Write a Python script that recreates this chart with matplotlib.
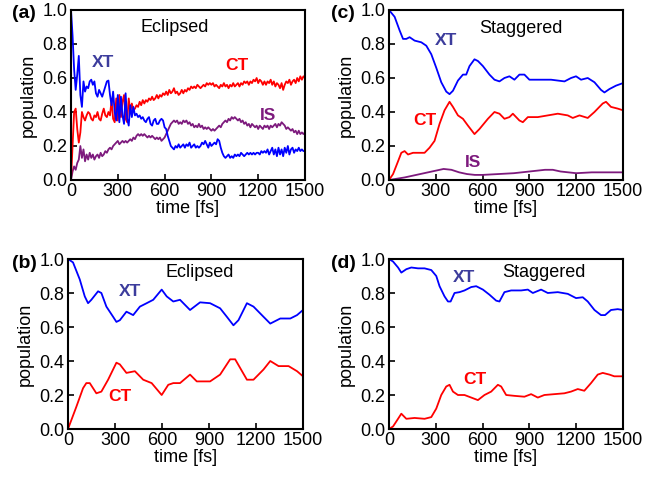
import numpy as np
import matplotlib
matplotlib.use("Agg")
import matplotlib.pyplot as plt

plt.rcParams['font.family'] = ['Liberation Sans', 'DejaVu Sans']

# ---- panel (a): eclipsed, 3 states, sampled every 10 fs ----
xt_a = [1.00, 0.85, 0.65, 0.53, 0.62, 0.73, 0.50, 0.43, 0.58, 0.52,
        0.55, 0.54, 0.58, 0.59, 0.56, 0.58, 0.51, 0.49, 0.53, 0.51,
        0.49, 0.52, 0.55, 0.58, 0.585, 0.50, 0.44, 0.52, 0.40, 0.35,
        0.50, 0.34, 0.49, 0.38, 0.33, 0.51, 0.36, 0.32, 0.44, 0.37,
        0.43, 0.38, 0.39, 0.37, 0.38, 0.36, 0.37, 0.35, 0.34, 0.36,
        0.37, 0.33, 0.32, 0.35, 0.36, 0.33, 0.33, 0.35, 0.36, 0.35,
        0.31, 0.30, 0.26, 0.23, 0.20, 0.19, 0.18, 0.20, 0.19, 0.21,
        0.19, 0.20, 0.21, 0.19, 0.21, 0.20, 0.22, 0.19, 0.20, 0.21,
        0.19, 0.20, 0.19, 0.20, 0.22, 0.21, 0.23, 0.21, 0.19, 0.22,
        0.20, 0.21, 0.22, 0.21, 0.24, 0.23, 0.19, 0.16, 0.14, 0.13,
        0.14, 0.15, 0.13, 0.14, 0.13, 0.15, 0.14, 0.15, 0.14, 0.16,
        0.15, 0.14, 0.15, 0.16, 0.15, 0.16, 0.15, 0.16, 0.15, 0.16,
        0.16, 0.15, 0.17, 0.16, 0.17, 0.16, 0.18, 0.15, 0.17, 0.19,
        0.15, 0.18, 0.14, 0.19, 0.15, 0.18, 0.14, 0.19, 0.16, 0.20,
        0.15, 0.18, 0.19, 0.16, 0.18, 0.17, 0.19, 0.17, 0.18, 0.17,
        0.17]
ct_a = [0.00, 0.20, 0.40, 0.42, 0.30, 0.22, 0.28, 0.40, 0.37, 0.35,
        0.38, 0.40, 0.39, 0.36, 0.35, 0.38, 0.37, 0.40, 0.36, 0.35,
        0.39, 0.42, 0.38, 0.37, 0.40, 0.38, 0.47, 0.36, 0.34, 0.48,
        0.35, 0.50, 0.37, 0.46, 0.50, 0.36, 0.34, 0.48, 0.40, 0.45,
        0.41, 0.42, 0.44, 0.43, 0.46, 0.44, 0.47, 0.45, 0.47, 0.46,
        0.48, 0.47, 0.49, 0.47, 0.48, 0.50, 0.48, 0.50, 0.49, 0.51,
        0.50, 0.52, 0.50, 0.53, 0.51, 0.52, 0.54, 0.51, 0.52, 0.50,
        0.51, 0.53, 0.51, 0.53, 0.52, 0.54, 0.53, 0.55, 0.54, 0.55,
        0.54, 0.56, 0.55, 0.54, 0.55, 0.56, 0.55, 0.57, 0.56, 0.57,
        0.56, 0.57, 0.55, 0.56, 0.55, 0.54, 0.56, 0.55, 0.57, 0.55,
        0.56, 0.54, 0.56, 0.55, 0.57, 0.55, 0.56, 0.57, 0.55, 0.57,
        0.56, 0.58, 0.57, 0.58, 0.56, 0.58, 0.57, 0.59, 0.58, 0.60,
        0.57, 0.59, 0.58, 0.56, 0.58, 0.56, 0.58, 0.57, 0.59, 0.56,
        0.58, 0.55, 0.57, 0.56, 0.54, 0.57, 0.53, 0.56, 0.58, 0.57,
        0.59, 0.56, 0.58, 0.59, 0.57, 0.60, 0.58, 0.61, 0.59, 0.61,
        0.60]
is_a = [0.00, 0.05, 0.08, 0.06, 0.10, 0.12, 0.20, 0.13, 0.18, 0.11,
        0.15, 0.12, 0.16, 0.13, 0.15, 0.12, 0.14, 0.15, 0.13, 0.16,
        0.14, 0.15, 0.17, 0.16, 0.18, 0.19, 0.18, 0.20, 0.21, 0.22,
        0.23, 0.21, 0.22, 0.23, 0.22, 0.23, 0.22, 0.23, 0.24, 0.23,
        0.25, 0.24, 0.26, 0.27, 0.26, 0.27, 0.26, 0.27, 0.26, 0.25,
        0.26, 0.25, 0.26, 0.25, 0.24, 0.25, 0.24, 0.25, 0.23, 0.24,
        0.25, 0.27, 0.29, 0.31, 0.33, 0.34, 0.35, 0.34, 0.35, 0.33,
        0.34, 0.33, 0.35, 0.34, 0.35, 0.33, 0.34, 0.32, 0.33, 0.31,
        0.32, 0.31, 0.33, 0.31, 0.32, 0.30, 0.31, 0.30, 0.31, 0.30,
        0.29, 0.30, 0.29, 0.30, 0.31, 0.32, 0.31, 0.33, 0.34, 0.35,
        0.34, 0.36, 0.35, 0.37, 0.36, 0.37, 0.36, 0.35, 0.36, 0.34,
        0.35, 0.33, 0.34, 0.32, 0.33, 0.31, 0.33, 0.32, 0.31, 0.32,
        0.30, 0.32, 0.31, 0.30, 0.32, 0.31, 0.32, 0.30, 0.32, 0.31,
        0.32, 0.33, 0.31, 0.33, 0.32, 0.34, 0.33, 0.32, 0.30, 0.31,
        0.30, 0.29, 0.30, 0.28, 0.29, 0.27, 0.29, 0.27, 0.28, 0.27,
        0.28]
t_a = np.linspace(0, 1500, len(xt_a))

# ---- panel (b): eclipsed, 2 states ----
t_b_xt = [0, 32, 75, 107, 128, 149, 192, 213, 245, 288, 309, 331, 373, 395, 416,
          459, 502, 544, 598, 630, 672, 715, 779, 843, 907, 971, 1014, 1056,
          1088, 1142, 1184, 1248, 1291, 1355, 1419, 1462, 1500]
xt_b = [1.00, 0.98, 0.88, 0.78, 0.74, 0.76, 0.81, 0.80, 0.72, 0.66, 0.63, 0.64,
        0.69, 0.68, 0.67, 0.72, 0.74, 0.76, 0.82, 0.78, 0.75, 0.76, 0.70, 0.745,
        0.74, 0.71, 0.66, 0.61, 0.64, 0.74, 0.72, 0.66, 0.62, 0.65, 0.65, 0.67,
        0.70]
t_b_ct = [0, 53, 96, 117, 139, 181, 213, 256, 309, 331, 373, 427, 480, 534, 598,
          640, 672, 715, 779, 822, 907, 971, 1035, 1067, 1142, 1184, 1248, 1291,
          1344, 1408, 1462, 1500]
ct_b = [0.00, 0.13, 0.24, 0.27, 0.27, 0.21, 0.22, 0.29, 0.39, 0.38, 0.33, 0.34,
        0.29, 0.27, 0.20, 0.26, 0.27, 0.27, 0.32, 0.28, 0.28, 0.32, 0.41, 0.41,
        0.29, 0.29, 0.35, 0.40, 0.37, 0.37, 0.34, 0.31]

# ---- panel (c): staggered, 3 states ----
t_c_xt = [0, 36, 68, 90, 111, 132, 164, 207, 239, 271, 303, 335, 367, 388, 410,
          442, 474, 495, 516, 548, 570, 602, 644, 676, 708, 740, 772, 804, 836,
          868, 900, 954, 1039, 1125, 1167, 1199, 1231, 1274, 1317, 1359, 1381,
          1413, 1455, 1500]
xt_c = [1.00, 0.96, 0.88, 0.83, 0.83, 0.84, 0.82, 0.81, 0.79, 0.74, 0.66, 0.575,
        0.52, 0.505, 0.525, 0.585, 0.62, 0.62, 0.67, 0.71, 0.70, 0.67, 0.62, 0.59,
        0.58, 0.60, 0.61, 0.59, 0.62, 0.62, 0.59, 0.59, 0.59, 0.58, 0.60, 0.61,
        0.59, 0.60, 0.575, 0.53, 0.515, 0.535, 0.555, 0.57]
t_c_ct = [0, 26, 58, 79, 100, 122, 154, 196, 228, 260, 292, 324, 356, 388, 410,
          442, 474, 506, 548, 580, 634, 676, 708, 740, 772, 794, 836, 858, 890,
          954, 1018, 1082, 1146, 1178, 1221, 1274, 1317, 1370, 1391, 1423, 1466,
          1500]
ct_c = [0.00, 0.035, 0.11, 0.16, 0.17, 0.15, 0.16, 0.16, 0.16, 0.19, 0.23, 0.33,
        0.41, 0.46, 0.43, 0.38, 0.36, 0.32, 0.27, 0.30, 0.36, 0.40, 0.39, 0.36,
        0.37, 0.39, 0.35, 0.34, 0.37, 0.37, 0.38, 0.39, 0.38, 0.365, 0.38, 0.365,
        0.40, 0.45, 0.46, 0.43, 0.42, 0.41]
t_c_is = [0, 100, 200, 300, 350, 400, 450, 500, 550, 600, 700, 800, 900, 1000,
          1050, 1100, 1200, 1300, 1400, 1500]
is_c = [0.00, 0.015, 0.035, 0.055, 0.065, 0.06, 0.045, 0.035, 0.03, 0.03, 0.035,
        0.04, 0.05, 0.06, 0.06, 0.05, 0.04, 0.045, 0.045, 0.045]

# ---- panel (d): staggered, 2 states ----
t_d_xt = [0, 26, 58, 79, 111, 143, 186, 228, 271, 303, 324, 356, 378, 395, 420,
          452, 484, 527, 559, 602, 644, 687, 708, 740, 783, 847, 890, 922, 975,
          1018, 1082, 1146, 1199, 1242, 1274, 1317, 1359, 1385, 1423, 1466, 1500]
xt_d = [1.00, 0.985, 0.95, 0.92, 0.94, 0.95, 0.945, 0.945, 0.935, 0.90, 0.84,
        0.78, 0.75, 0.75, 0.80, 0.805, 0.815, 0.835, 0.84, 0.82, 0.79, 0.755, 0.75,
        0.805, 0.815, 0.815, 0.82, 0.80, 0.82, 0.80, 0.805, 0.795, 0.77, 0.775,
        0.75, 0.70, 0.67, 0.67, 0.70, 0.705, 0.70]
t_d_ct = [0, 26, 58, 79, 111, 164, 228, 271, 303, 335, 367, 388, 410, 442, 484,
          527, 570, 612, 655, 698, 719, 751, 804, 868, 911, 954, 996, 1060, 1124,
          1167, 1210, 1252, 1295, 1338, 1370, 1413, 1444, 1500]
ct_d = [0.00, 0.015, 0.06, 0.09, 0.06, 0.065, 0.06, 0.07, 0.12, 0.20, 0.25, 0.26,
        0.22, 0.20, 0.20, 0.185, 0.17, 0.20, 0.22, 0.26, 0.25, 0.20, 0.195, 0.19,
        0.205, 0.185, 0.20, 0.205, 0.21, 0.22, 0.235, 0.225, 0.27, 0.32, 0.33,
        0.32, 0.31, 0.31]

BLUE = '#0000ff'
RED = '#ff0000'
PURPLE = '#7d1a7d'
XT_TXT = '#3c3c9c'

fig = plt.figure(figsize=(6.62, 4.83), dpi=100)
W, H = 662.0, 483.0


def make_ax(l, r, t, b):
    ax = fig.add_axes([l / W, 1 - b / H, (r - l) / W, (b - t) / H])
    ax.set_xlim(0, 1500)
    ax.set_ylim(0, 1.0)
    ax.set_xticks([0, 300, 600, 900, 1200, 1500])
    ax.set_yticks([0.0, 0.2, 0.4, 0.6, 0.8, 1.0])
    ax.set_yticklabels(['0.0', '0.2', '0.4', '0.6', '0.8', '1.0'])
    ax.tick_params(direction='in', length=4, width=1.2, labelsize=13,
                   top=False, right=False, pad=2.5)
    for s in ax.spines.values():
        s.set_linewidth(1.5)
    ax.set_xlabel('time [fs]', fontsize=13, labelpad=0)
    ax.set_ylabel('population', fontsize=13, labelpad=4)
    return ax


lw = 1.3
ax_a = make_ax(71, 305, 10, 180)
ax_a.plot(t_a, is_a, color=PURPLE, lw=lw)
ax_a.plot(t_a, ct_a, color=RED, lw=lw)
ax_a.plot(t_a, xt_a, color=BLUE, lw=lw)
ax_a.text(667, 0.90, 'Eclipsed', fontsize=13, ha='center', va='center')
ax_a.text(205, 0.69, 'XT', fontsize=12.5, fontweight='bold', color=XT_TXT, ha='center', va='center')
ax_a.text(1064, 0.675, 'CT', fontsize=12.5, fontweight='bold', color=RED, ha='center', va='center')
ax_a.text(1263, 0.38, 'IS', fontsize=12.5, fontweight='bold', color=PURPLE, ha='center', va='center')

ax_c = make_ax(389, 623, 10, 180)
ax_c.plot(t_c_is, is_c, color=PURPLE, lw=lw)
ax_c.plot(t_c_ct, ct_c, color=RED, lw=lw)
ax_c.plot(t_c_xt, xt_c, color=BLUE, lw=lw)
ax_c.text(846, 0.89, 'Staggered', fontsize=13, ha='center', va='center')
ax_c.text(365, 0.82, 'XT', fontsize=12.5, fontweight='bold', color=XT_TXT, ha='center', va='center')
ax_c.text(231, 0.35, 'CT', fontsize=12.5, fontweight='bold', color=RED, ha='center', va='center')
ax_c.text(538, 0.105, 'IS', fontsize=12.5, fontweight='bold', color=PURPLE, ha='center', va='center')

ax_b = make_ax(68, 303, 259, 429)
ax_b.plot(t_b_ct, ct_b, color=RED, lw=lw)
ax_b.plot(t_b_xt, xt_b, color=BLUE, lw=lw)
ax_b.text(843, 0.92, 'Eclipsed', fontsize=13, ha='center', va='center')
ax_b.text(396, 0.81, 'XT', fontsize=12.5, fontweight='bold', color=XT_TXT, ha='center', va='center')
ax_b.text(332, 0.19, 'CT', fontsize=12.5, fontweight='bold', color=RED, ha='center', va='center')

ax_d = make_ax(389, 623, 259, 429)
ax_d.plot(t_d_ct, ct_d, color=RED, lw=lw)
ax_d.plot(t_d_xt, xt_d, color=BLUE, lw=lw)
ax_d.text(994, 0.92, 'Staggered', fontsize=13, ha='center', va='center')
ax_d.text(481, 0.89, 'XT', fontsize=12.5, fontweight='bold', color=XT_TXT, ha='center', va='center')
ax_d.text(551, 0.29, 'CT', fontsize=12.5, fontweight='bold', color=RED, ha='center', va='center')

# panel letters
for lab, x, y in [('(a)', 24, 14), ('(c)', 343, 14), ('(b)', 24, 263), ('(d)', 343, 263)]:
    fig.text(x / W, 1 - y / H, lab, fontsize=14, fontweight='bold', ha='center', va='center')

fig.savefig('out.png', dpi=100)
